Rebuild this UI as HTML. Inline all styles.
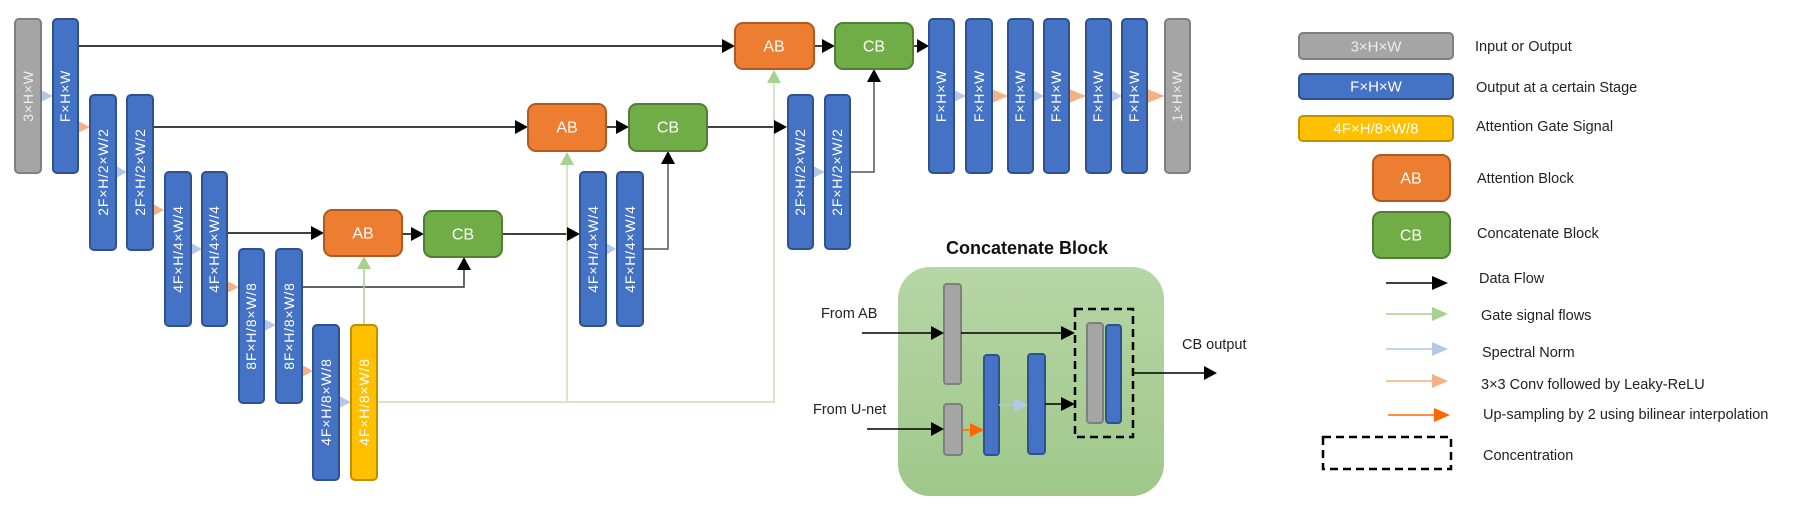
<!DOCTYPE html>
<html><head><meta charset="utf-8"><style>
html,body{margin:0;padding:0;background:#fff;}
svg{display:block;}
text{font-family:"Liberation Sans","Noto Sans CJK SC",sans-serif;}
.bt{fill:#fff;font-size:14px;}
.lt{fill:#222;font-size:14.5px;}
</style></head><body>
<svg width="1802" height="505" viewBox="0 0 1802 505" xmlns="http://www.w3.org/2000/svg">
<defs>
<linearGradient id="pg" x1="0" y1="0" x2="0" y2="1"><stop offset="0" stop-color="#b6d6a6"/><stop offset="1" stop-color="#9fc88a"/></linearGradient>
</defs>
<g fill="none" stroke-width="1.5">
<path d="M78 46H722" stroke="#000"/>
<path d="M153 127H515" stroke="#000"/>
<path d="M227 233H311" stroke="#000"/>
<path d="M402 234H411" stroke="#000"/>
<path d="M302 287H464V270" stroke="#333"/>
<path d="M502 234H567" stroke="#000"/>
<path d="M606 127H616" stroke="#000"/>
<path d="M644 249H668V164" stroke="#555"/>
<path d="M707 127H774" stroke="#000"/>
<path d="M814 46H822" stroke="#000"/>
<path d="M850 172H874V82" stroke="#555"/>
<path d="M913 46H917" stroke="#000"/>
<path d="M364 325V268" stroke="#a9d18e"/>
<path d="M377 402H774V82" stroke="#c5e0b4"/>
<path d="M567 402V164" stroke="#c5e0b4"/>
</g>
<g fill="#000">
<polygon points="722,39 735,46 722,53"/>
<polygon points="515,120 528,127 515,134"/>
<polygon points="311,226 324,233 311,240"/>
<polygon points="411,227 424,234 411,241"/>
<polygon points="457,270 464,257 471,270"/>
<polygon points="567,227 580,234 567,241"/>
<polygon points="616,120 629,127 616,134"/>
<polygon points="661,164 668,151 675,164"/>
<polygon points="774,120 787,127 774,134"/>
<polygon points="822,39 835,46 822,53"/>
<polygon points="867,82 874,69 881,82"/>
<polygon points="917,39 929,46 917,53"/>
</g>
<g fill="#a9d18e">
<polygon points="357,269 364,256 371,269"/>
<polygon points="560,165 567,152 574,165"/>
<polygon points="767,83 774,70 781,83"/>
</g>
<g>
<polygon points="41,90 53,96 41,102" fill="#b4c7e7"/>
<polygon points="78,121 90,127 78,133" fill="#f4b183"/>
<polygon points="116,166 127,172 116,178" fill="#b4c7e7"/>
<polygon points="153,204 164,210 153,216" fill="#f4b183"/>
<polygon points="191,243 202,249 191,255" fill="#b4c7e7"/>
<polygon points="227,281 239,287 227,293" fill="#f4b183"/>
<polygon points="264,319 276,325 264,331" fill="#b4c7e7"/>
<polygon points="302,365 313,371 302,377" fill="#f4b183"/>
<polygon points="339,396 351,402 339,408" fill="#b4c7e7"/>
<polygon points="606,243 616,249 606,255" fill="#b4c7e7"/>
<polygon points="813,166 825,172 813,178" fill="#b4c7e7"/>
<polygon points="954,90 966,96 954,102" fill="#b4c7e7"/>
<polygon points="992,89 1008,96 992,103" fill="#f4b183"/>
<polygon points="1033,90 1044,96 1033,102" fill="#b4c7e7"/>
<polygon points="1069,89 1086,96 1069,103" fill="#f4b183"/>
<polygon points="1111,90 1122,96 1111,102" fill="#b4c7e7"/>
<polygon points="1147,89 1165,96 1147,103" fill="#f4b183"/>
</g>
<g stroke-width="2">
<rect x="15" y="19" width="26" height="154" rx="4" fill="#a5a5a5" stroke="#7f7f7f"/>
<rect x="53" y="19" width="25" height="154" rx="4" fill="#4472c4" stroke="#2f528f"/>
<rect x="90" y="95" width="26" height="155" rx="4" fill="#4472c4" stroke="#2f528f"/>
<rect x="127" y="95" width="26" height="155" rx="4" fill="#4472c4" stroke="#2f528f"/>
<rect x="165" y="172" width="26" height="154" rx="4" fill="#4472c4" stroke="#2f528f"/>
<rect x="202" y="172" width="25" height="154" rx="4" fill="#4472c4" stroke="#2f528f"/>
<rect x="239" y="249" width="25" height="154" rx="4" fill="#4472c4" stroke="#2f528f"/>
<rect x="276" y="249" width="26" height="154" rx="4" fill="#4472c4" stroke="#2f528f"/>
<rect x="313" y="325" width="26" height="155" rx="4" fill="#4472c4" stroke="#2f528f"/>
<rect x="351" y="325" width="26" height="155" rx="4" fill="#ffc000" stroke="#bf9000"/>
<rect x="580" y="172" width="26" height="154" rx="4" fill="#4472c4" stroke="#2f528f"/>
<rect x="617" y="172" width="26" height="154" rx="4" fill="#4472c4" stroke="#2f528f"/>
<rect x="788" y="95" width="25" height="154" rx="4" fill="#4472c4" stroke="#2f528f"/>
<rect x="825" y="95" width="25" height="154" rx="4" fill="#4472c4" stroke="#2f528f"/>
<rect x="929" y="19" width="25" height="154" rx="4" fill="#4472c4" stroke="#2f528f"/>
<rect x="966" y="19" width="26" height="154" rx="4" fill="#4472c4" stroke="#2f528f"/>
<rect x="1008" y="19" width="25" height="154" rx="4" fill="#4472c4" stroke="#2f528f"/>
<rect x="1044" y="19" width="25" height="154" rx="4" fill="#4472c4" stroke="#2f528f"/>
<rect x="1086" y="19" width="25" height="154" rx="4" fill="#4472c4" stroke="#2f528f"/>
<rect x="1122" y="19" width="25" height="154" rx="4" fill="#4472c4" stroke="#2f528f"/>
<rect x="1165" y="19" width="25" height="154" rx="4" fill="#a5a5a5" stroke="#7f7f7f"/>
<rect x="324" y="210" width="78" height="46" rx="8" fill="#ed7d31" stroke="#ae5a21"/>
<rect x="424" y="211" width="78" height="46" rx="8" fill="#70ad47" stroke="#507e32"/>
<rect x="528" y="104" width="78" height="47" rx="8" fill="#ed7d31" stroke="#ae5a21"/>
<rect x="629" y="104" width="78" height="47" rx="8" fill="#70ad47" stroke="#507e32"/>
<rect x="735" y="23" width="79" height="46" rx="8" fill="#ed7d31" stroke="#ae5a21"/>
<rect x="835" y="23" width="78" height="46" rx="8" fill="#70ad47" stroke="#507e32"/>
</g>
<g class="bt" text-anchor="middle" dominant-baseline="central" letter-spacing="0.8">
<text transform="translate(28,96) rotate(-90)" fill="#eee">3×H×W</text>
<text transform="translate(65,96) rotate(-90)">F×H×W</text>
<text transform="translate(103,172) rotate(-90)">2F×H/2×W/2</text>
<text transform="translate(140,172) rotate(-90)">2F×H/2×W/2</text>
<text transform="translate(178,249) rotate(-90)">4F×H/4×W/4</text>
<text transform="translate(214,249) rotate(-90)">4F×H/4×W/4</text>
<text transform="translate(251,326) rotate(-90)">8F×H/8×W/8</text>
<text transform="translate(289,326) rotate(-90)">8F×H/8×W/8</text>
<text transform="translate(326,402) rotate(-90)">4F×H/8×W/8</text>
<text transform="translate(364,402) rotate(-90)">4F×H/8×W/8</text>
<text transform="translate(593,249) rotate(-90)">4F×H/4×W/4</text>
<text transform="translate(630,249) rotate(-90)">4F×H/4×W/4</text>
<text transform="translate(800,172) rotate(-90)">2F×H/2×W/2</text>
<text transform="translate(837,172) rotate(-90)">2F×H/2×W/2</text>
<text transform="translate(941,96) rotate(-90)">F×H×W</text>
<text transform="translate(979,96) rotate(-90)">F×H×W</text>
<text transform="translate(1020,96) rotate(-90)">F×H×W</text>
<text transform="translate(1056,96) rotate(-90)">F×H×W</text>
<text transform="translate(1098,96) rotate(-90)">F×H×W</text>
<text transform="translate(1134,96) rotate(-90)">F×H×W</text>
<text transform="translate(1177,96) rotate(-90)" fill="#eee">1×H×W</text>
</g>
<g class="bt" text-anchor="middle" dominant-baseline="central" font-size="16">
<text x="363" y="234" font-size="16">AB</text>
<text x="463" y="235" font-size="16">CB</text>
<text x="567" y="128" font-size="16">AB</text>
<text x="668" y="128" font-size="16">CB</text>
<text x="774" y="47" font-size="16">AB</text>
<text x="874" y="47" font-size="16">CB</text>
</g>
<text x="1027" y="254" text-anchor="middle" font-size="18" font-weight="bold" fill="#111">Concatenate Block</text>
<rect x="898" y="267" width="266" height="229" rx="32" fill="url(#pg)"/>
<g stroke-width="2">
<rect x="944" y="284" width="17" height="100" rx="3" fill="#a5a5a5" stroke="#7f7f7f"/>
<rect x="944" y="404" width="18" height="51" rx="3" fill="#a5a5a5" stroke="#7f7f7f"/>
<rect x="984" y="355" width="15" height="100" rx="3" fill="#4472c4" stroke="#2f528f"/>
<rect x="1028" y="354" width="17" height="100" rx="3" fill="#4472c4" stroke="#2f528f"/>
<rect x="1087" y="323" width="16" height="100" rx="3" fill="#a5a5a5" stroke="#7f7f7f"/>
<rect x="1106" y="325" width="15" height="98" rx="3" fill="#4472c4" stroke="#2f528f"/>
</g>
<rect x="1075" y="309" width="58" height="128" fill="none" stroke="#000" stroke-width="2.5" stroke-dasharray="8,5"/>
<g fill="none" stroke-width="1.5">
<path d="M862 333H931" stroke="#000"/>
<path d="M961 333H1061" stroke="#000"/>
<path d="M867 429H931" stroke="#000"/>
<path d="M962 430H970" stroke="#ff6600"/>
<path d="M999 405H1014" stroke="#b4c7e7"/>
<path d="M1045 404H1061" stroke="#000"/>
<path d="M1133 373H1204" stroke="#000"/>
</g>
<polygon points="931,326 944,333 931,340" fill="#000"/>
<polygon points="1061,326 1075,333 1061,340" fill="#000"/>
<polygon points="931,422 944,429 931,436" fill="#000"/>
<polygon points="970,423 984,430 970,437" fill="#ff6600"/>
<polygon points="1014,398 1028,405 1014,412" fill="#b4c7e7"/>
<polygon points="1061,397 1075,404 1061,411" fill="#000"/>
<polygon points="1204,366 1217,373 1204,380" fill="#000"/>
<text x="821" y="318" class="lt">From AB</text>
<text x="813" y="414" class="lt">From U-net</text>
<text x="1182" y="349" class="lt">CB output</text>
<g stroke-width="2">
<rect x="1299" y="33" width="154" height="26" rx="4" fill="#a5a5a5" stroke="#7f7f7f"/>
<rect x="1299" y="74" width="154" height="25" rx="4" fill="#4472c4" stroke="#2f528f"/>
<rect x="1299" y="116" width="154" height="25" rx="4" fill="#ffc000" stroke="#bf9000"/>
<rect x="1373" y="155" width="77" height="46" rx="8" fill="#ed7d31" stroke="#ae5a21"/>
<rect x="1373" y="212" width="77" height="46" rx="8" fill="#70ad47" stroke="#507e32"/>
</g>
<g class="bt" text-anchor="middle" dominant-baseline="central" font-size="15">
<text x="1376" y="47" fill="#eee" font-size="15">3×H×W</text>
<text x="1376" y="87" font-size="15">F×H×W</text>
<text x="1376" y="129" font-size="15">4F×H/8×W/8</text>
<text x="1411" y="179" font-size="16">AB</text>
<text x="1411" y="236" font-size="16">CB</text>
</g>
<g stroke-width="1.5">
<path d="M1386 283H1434" stroke="#000"/>
<path d="M1386 314H1434" stroke="#a9d18e"/>
<path d="M1386 349H1434" stroke="#b4c7e7"/>
<path d="M1386 381H1434" stroke="#f4b183"/>
<path d="M1388 415H1436" stroke="#ff6600"/>
</g>
<polygon points="1432,276 1448,283 1432,290" fill="#000"/>
<polygon points="1432,307 1448,314 1432,321" fill="#a9d18e"/>
<polygon points="1432,342 1448,349 1432,356" fill="#b4c7e7"/>
<polygon points="1432,374 1448,381 1432,388" fill="#f4b183"/>
<polygon points="1434,408 1450,415 1434,422" fill="#ff6600"/>
<rect x="1323" y="437" width="128" height="32" fill="none" stroke="#000" stroke-width="2.5" stroke-dasharray="8,5"/>
<g class="lt">
<text x="1475" y="51">Input or Output</text>
<text x="1476" y="92">Output at a certain Stage</text>
<text x="1476" y="131">Attention Gate Signal</text>
<text x="1477" y="183">Attention Block</text>
<text x="1477" y="238">Concatenate Block</text>
<text x="1479" y="283">Data Flow</text>
<text x="1481" y="320">Gate signal flows</text>
<text x="1482" y="357">Spectral Norm</text>
<text x="1481" y="389">3×3 Conv followed by Leaky-ReLU</text>
<text x="1483" y="419">Up-sampling by 2 using bilinear interpolation</text>
<text x="1483" y="460">Concentration</text>
</g>
</svg>
</body></html>
